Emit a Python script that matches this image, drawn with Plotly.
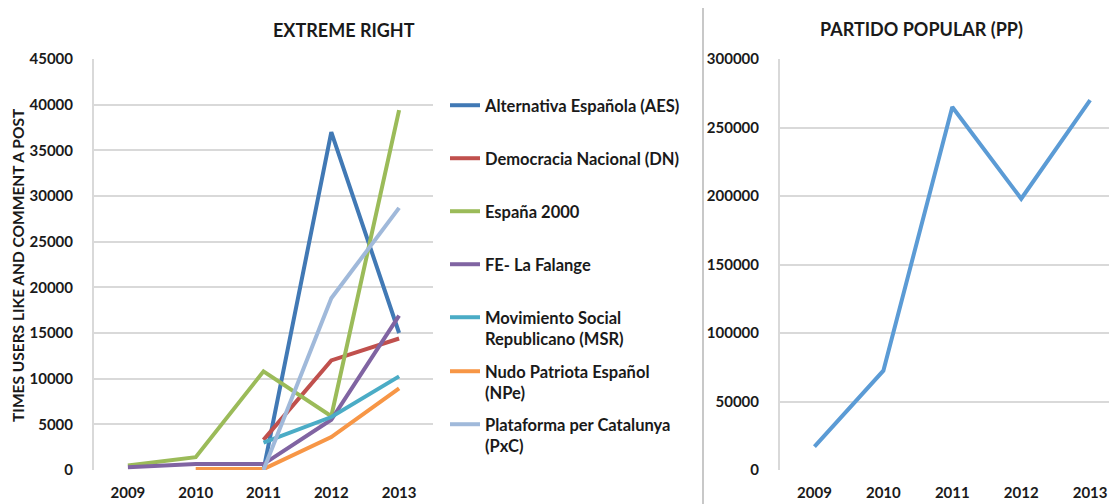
import plotly.graph_objects as go

W, H = 1117, 504
OFF = 8  # browser body margin; page coordinates = figure coordinates + OFF

years = ["2009", "2010", "2011", "2012", "2013"]

# Extreme right parties (None = no data)
aes = [None, None, 0, 37000, 15000]
dn = [None, None, 3300, 12000, 14400]
espana = [500, 1400, 10800, 5900, 39400]
falange = [300, 650, 650, 5500, 16900]
msr = [None, None, 3000, 5800, 10250]
npe = [None, 100, 100, 3600, 8950]
pxc = [None, None, 0, 18800, 28700]

pp = [17000, 72500, 265000, 198000, 270000]

series_names = [
    "Alternativa Española (AES)",
    "Democracia Nacional (DN)",
    "España 2000",
    "FE- La Falange",
    "Movimiento Social<br>Republicano (MSR)",
    "Nudo Patriota Español<br>(NPe)",
    "Plataforma per Catalunya<br>(PxC)",
]
series_values = [aes, dn, espana, falange, msr, npe, pxc]
series_colors = ["#4179b5", "#c0504d", "#9bbb59", "#8064a2", "#4bacc6", "#f79646", "#a0b9da"]
legend_item_y = [106, 159, 212, 265, 318, 372, 425]  # page-pixel centres of legend rows

left_ticks = [0, 5000, 10000, 15000, 20000, 25000, 30000, 35000, 40000, 45000]
right_ticks = [0, 50000, 100000, 150000, 200000, 250000, 300000]

FONT = "Lato"
TXT = "#1a1a1a"
GRID = "#d9d9d9"

fig = go.Figure()

for i, (name, vals, col) in enumerate(zip(series_names, series_values, series_colors)):
    lg = "legend" if i == 0 else f"legend{i+1}"
    fig.add_trace(go.Scatter(
        x=years, y=vals, name=name, mode="lines",
        line=dict(color=col, width=4),
        xaxis="x", yaxis="y", legend=lg, connectgaps=False,
    ))

fig.add_trace(go.Scatter(
    x=years, y=pp, name="Partido Popular (PP)", mode="lines",
    line=dict(color="#5b9bd5", width=4),
    xaxis="x2", yaxis="y2", showlegend=False,
))

def px_x(p):
    return (p - OFF) / W

def px_y(p):
    return 1 - (p - OFF) / H

axis_font = dict(family=FONT, size=15, color=TXT, weight="bold")

layout = dict(
    width=W, height=H,
    margin=dict(l=0, r=0, t=0, b=0, autoexpand=False),
    paper_bgcolor="white", plot_bgcolor="white",
    font=dict(family=FONT, color=TXT),
    xaxis=dict(
        domain=[px_x(94), px_x(433)], type="category", range=[-0.5, 4.5],
        showgrid=False, zeroline=False, showline=False, automargin=False,
        tickfont=axis_font, ticks="", ticklabelstandoff=12,
    ),
    yaxis=dict(
        domain=[px_y(470), px_y(59)], range=[0, 45000], automargin=False,
        tickvals=left_ticks, ticktext=[str(v) for v in left_ticks],
        showgrid=True, gridcolor=GRID, gridwidth=2,
        zeroline=False, showline=True, linecolor=GRID, linewidth=2,
        tickfont=axis_font, ticks="", ticklabelstandoff=16,
    ),
    xaxis2=dict(
        domain=[px_x(780), px_x(1117)], type="category", range=[-0.5, 4.39],
        showgrid=False, zeroline=False, showline=False, automargin=False,
        tickfont=axis_font, ticks="", ticklabelstandoff=12, anchor="y2",
    ),
    yaxis2=dict(
        domain=[px_y(470), px_y(59)], range=[0, 300000], anchor="x2", automargin=False,
        tickvals=right_ticks, ticktext=[str(v) for v in right_ticks],
        showgrid=True, gridcolor=GRID, gridwidth=2,
        zeroline=False, showline=True, linecolor=GRID, linewidth=2,
        tickfont=axis_font, ticks="", ticklabelstandoff=16,
    ),
    showlegend=True,
)

for i, yc in enumerate(legend_item_y):
    key = "legend" if i == 0 else f"legend{i+1}"
    layout[key] = dict(
        x=px_x(445), y=px_y(yc - 18), xanchor="left", yanchor="top",
        bgcolor="rgba(0,0,0,0)", borderwidth=0,
        font=dict(family=FONT, size=16.5, color=TXT, weight="bold"),
        valign="top", itemwidth=30, itemclick=False,
    )

fig.update_layout(**layout)

fig.add_annotation(
    text="<b>EXTREME RIGHT</b>", xref="paper", yref="paper",
    x=px_x(344), y=px_y(30), xanchor="center", yanchor="middle",
    showarrow=False, font=dict(family=FONT, size=18, color=TXT),
)
fig.add_annotation(
    text="<b>PARTIDO POPULAR (PP)</b>", xref="paper", yref="paper",
    x=px_x(921), y=px_y(29), xanchor="center", yanchor="middle",
    showarrow=False, font=dict(family=FONT, size=18, color=TXT),
)
fig.add_annotation(
    text="<b>TIMES USERS LIKE AND COMMENT A POST</b>", xref="paper", yref="paper",
    x=px_x(18), y=px_y(265), xanchor="center", yanchor="middle", textangle=-90,
    showarrow=False, font=dict(family=FONT, size=15.5, color=TXT),
)

fig.add_shape(
    type="line", xref="paper", yref="paper",
    x0=px_x(703), x1=px_x(703), y0=px_y(504), y1=px_y(6),
    line=dict(color="#c8c8c8", width=2),
)

fig.write_html("out.html")
